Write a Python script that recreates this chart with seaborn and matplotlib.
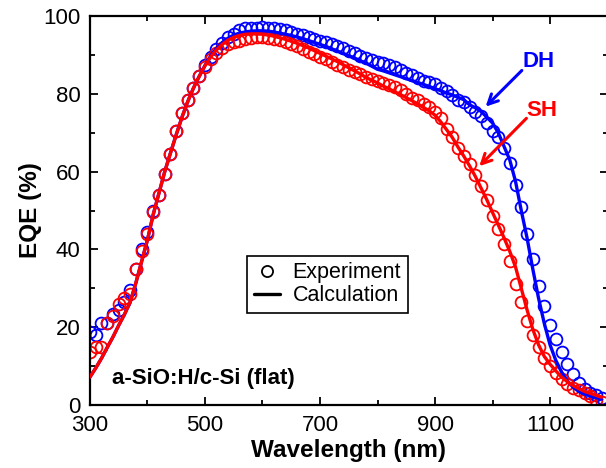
import numpy as np
import pandas as pd
import matplotlib
matplotlib.use("Agg")
import matplotlib.pyplot as plt
from matplotlib.lines import Line2D
import seaborn as sns

# measured EQE (10 nm steps)
wl_exp = list(range(300, 1200, 10))
eqe_dh_exp = [18.8, 18.0, 21.0, 21.0, 23.5, 24.5, 26.5, 29.5, 35.0, 40.0,
              44.5, 50.0, 54.0, 59.5, 64.5, 70.5, 75.0, 78.5, 81.5, 84.5,
              87.5, 89.5, 91.5, 93.0, 94.5, 95.5, 96.3, 96.8, 97.0, 97.0,
              97.2, 97.0, 96.8, 96.6, 96.3, 96.0, 95.5, 95.1, 94.6, 94.1,
              93.6, 93.2, 92.8, 92.4, 91.8, 91.1, 90.4, 89.8, 89.2, 88.7,
              88.3, 87.8, 87.4, 87.0, 86.2, 85.4, 84.8, 84.0, 83.4, 83.0,
              82.5, 81.5, 80.8, 79.6, 78.3, 77.8, 76.5, 75.3, 74.3, 72.5,
              70.5, 68.8, 66.0, 62.3, 56.5, 50.8, 44.0, 37.5, 30.5, 25.5,
              20.5, 17.0, 13.5, 10.5, 8.0, 5.7, 4.0, 3.0, 2.5, 1.7]
eqe_sh_exp = [13.5, 15.0, 15.0, 21.0, 23.0, 26.0, 27.5, 28.5, 35.0, 39.5,
              44.0, 49.5, 54.0, 59.5, 64.5, 70.5, 75.0, 78.5, 81.5, 84.5,
              87.0, 89.0, 90.5, 91.8, 92.7, 93.2, 93.7, 94.0, 94.3, 94.5,
              94.5, 94.3, 94.1, 93.8, 93.3, 92.7, 92.2, 91.5, 90.8, 90.2,
              89.5, 88.9, 88.2, 87.5, 86.8, 86.2, 85.6, 85.0, 84.4, 83.8,
              83.2, 82.7, 82.2, 81.7, 80.9, 80.0, 79.0, 78.3, 77.4, 76.5,
              75.4, 73.7, 71.0, 69.0, 66.0, 64.0, 62.0, 59.2, 56.2, 52.7,
              48.5, 45.2, 41.5, 37.0, 31.0, 26.5, 21.5, 18.0, 14.8, 12.0,
              10.0, 8.1, 6.6, 5.3, 4.5, 3.8, 3.0, 2.3, 1.3, 0.8]

# calculated EQE
wl_calc = list(range(300, 1200, 10))
eqe_dh_calc = [7.2, 9.5, 12.0, 14.8, 17.5, 20.5, 23.3, 26.5, 31.5, 37.0,
               42.5, 49.0, 54.5, 60.0, 64.8, 69.5, 74.0, 78.0, 81.5, 84.5,
               87.3, 89.8, 91.7, 93.2, 94.3, 95.1, 95.6, 95.9, 96.1, 96.2,
               96.2, 96.1, 95.9, 95.6, 95.3, 95.0, 94.6, 94.2, 93.7, 93.2,
               92.7, 92.2, 91.6, 91.0, 90.4, 89.8, 89.2, 88.5, 87.9, 87.1,
               86.3, 85.9, 85.4, 84.9, 84.4, 83.9, 83.4, 82.9, 82.4, 81.9,
               81.3, 80.8, 80.2, 79.7, 79.1, 78.5, 77.2, 76.4, 75.5, 74.0,
               72.5, 70.0, 66.5, 63.0, 57.5, 50.0, 43.0, 35.0, 27.5, 21.0,
               15.5, 11.5, 8.5, 6.2, 4.6, 3.5, 2.8, 2.3, 1.9, 1.5]
eqe_sh_calc = [7.2, 9.5, 12.0, 14.8, 17.5, 20.5, 23.3, 26.5, 31.5, 37.0,
               42.5, 49.0, 54.5, 60.0, 64.8, 69.5, 74.0, 78.0, 81.5, 84.5,
               87.2, 89.5, 91.3, 92.7, 93.8, 94.5, 95.0, 95.3, 95.4, 95.4,
               95.3, 95.1, 94.8, 94.4, 94.0, 93.5, 93.0, 92.4, 91.8, 91.1,
               90.4, 89.7, 89.0, 88.3, 87.5, 86.7, 85.9, 85.1, 84.2, 83.5,
               82.8, 82.0, 81.3, 80.5, 79.8, 79.0, 78.2, 77.4, 76.5, 75.6,
               74.5, 72.8, 70.8, 68.8, 66.3, 64.0, 61.5, 58.8, 55.8, 52.8,
               49.5, 46.3, 43.0, 39.5, 35.5, 30.0, 24.5, 19.5, 15.5, 12.5,
               10.5, 8.8, 7.2, 6.0, 5.0, 4.2, 3.5, 3.0, 2.5, 2.0]

x_major = [300, 500, 700, 900, 1100]
x_minor = [400, 600, 800, 1000, 1200]
y_major = [0, 20, 40, 60, 80, 100]
y_minor = [10, 30, 50, 70, 90]

exp_df = pd.DataFrame({"wl": wl_exp, "DH": eqe_dh_exp, "SH": eqe_sh_exp})
calc_df = pd.DataFrame({"wl": wl_calc, "DH": eqe_dh_calc, "SH": eqe_sh_calc})

sns.set_style("ticks")
plt.rcParams["font.family"] = ["Liberation Sans", "DejaVu Sans"]
for key in ["text.color", "axes.labelcolor", "xtick.color", "ytick.color",
            "axes.edgecolor"]:
    plt.rcParams[key] = "black"

fig = plt.figure(figsize=(6.06, 4.68), dpi=100)
ax = fig.add_axes([0.1485, 0.1346, 0.854, 0.8312])

BLUE = "#0000ff"
RED = "#ff0000"

sns.lineplot(data=calc_df, x="wl", y="DH", ax=ax, color=BLUE, lw=2.4, zorder=3)
sns.lineplot(data=calc_df, x="wl", y="SH", ax=ax, color=RED, lw=2.4, zorder=4)
sns.lineplot(data=exp_df, x="wl", y="DH", ax=ax, marker="o", linestyle="",
             markersize=8.5, markerfacecolor="none", markeredgecolor=BLUE,
             markeredgewidth=1.3, zorder=2)
sns.lineplot(data=exp_df, x="wl", y="SH", ax=ax, marker="o", linestyle="",
             markersize=8.5, markerfacecolor="none", markeredgecolor=RED,
             markeredgewidth=1.3, zorder=2)

ax.set_xlim(300, 1200)
ax.set_ylim(0, 100)
ax.set_xticks(x_major)
ax.set_xticks(x_minor, minor=True)
ax.set_yticks(y_major)
ax.set_yticks(y_minor, minor=True)
ax.tick_params(which="both", direction="in", top=True, right=True, width=1.3,
               labelsize=16, pad=7)
ax.tick_params(which="major", length=5.5)
ax.tick_params(which="minor", length=3.5)
for sp in ax.spines.values():
    sp.set_linewidth(1.6)
    sp.set_visible(True)

ax.set_xlabel("Wavelength (nm)", fontsize=17.5, fontweight="bold", labelpad=2)
ax.set_ylabel("EQE (%)", fontsize=17.5, fontweight="bold", labelpad=1)

ax.text(338, 6.9, "a-SiO:H/c-Si (flat)", fontsize=16, fontweight="bold",
        ha="left", va="center")

ax.text(1080, 88.2, "DH", color=BLUE, fontsize=16, fontweight="bold",
        ha="center", va="center")
ax.text(1085, 75.8, "SH", color=RED, fontsize=16, fontweight="bold",
        ha="center", va="center")
ax.annotate("", xy=(988, 76.7), xytext=(1051, 86.0),
            arrowprops=dict(arrowstyle="->,head_length=0.7,head_width=0.35",
                            color=BLUE, lw=2.2, shrinkA=0, shrinkB=0))
ax.annotate("", xy=(977, 61.4), xytext=(1059, 73.7),
            arrowprops=dict(arrowstyle="->,head_length=0.7,head_width=0.35",
                            color=RED, lw=2.2, shrinkA=0, shrinkB=0))

handles = [Line2D([], [], marker="o", linestyle="", markersize=8,
                  markerfacecolor="none", markeredgecolor="black",
                  markeredgewidth=1.3),
           Line2D([], [], color="black", lw=2.4)]
leg = ax.legend(handles, ["Experiment", "Calculation"], loc="center",
                bbox_to_anchor=(0.459, 0.31), fontsize=15.5, frameon=True,
                fancybox=False, framealpha=1, edgecolor="black",
                handlelength=1.2, handletextpad=0.6, borderpad=0.3,
                labelspacing=0.1)
leg.get_frame().set_linewidth(1.2)

fig.savefig("out.png", dpi=100)
